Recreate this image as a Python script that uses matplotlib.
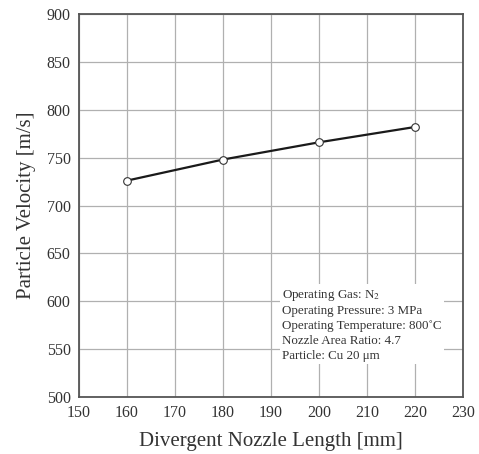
import matplotlib
matplotlib.use('Agg')
import matplotlib.pyplot as plt
from matplotlib.patches import Rectangle

plt.rcParams['font.family'] = ['Liberation Serif', 'DejaVu Serif']
plt.rcParams['mathtext.fontset'] = 'stix'

length = [160, 180, 200, 220]
velocity = [726, 748, 766, 782]
xticks = list(range(150, 231, 10))
yticks = list(range(500, 901, 50))
info_lines = ['Operating Gas: N$_2$',
              'Operating Pressure: 3 MPa',
              'Operating Temperature: 800\u02daC',
              'Nozzle Area Ratio: 4.7',
              'Particle: Cu 20 \u03bcm']

fig = plt.figure(figsize=(4.79, 4.54), dpi=100)
ax = fig.add_axes([79/479, 57/454, 384/479, 383/454])

ax.plot(length, velocity, color='#1a1a1a', lw=1.6, marker='o', ms=5.5,
        mfc='white', mec='#333333', mew=0.8, zorder=3)

ax.set_xlim(150, 230)
ax.set_ylim(500, 900)
ax.set_xticks(xticks)
ax.set_yticks(yticks)
ax.grid(True, color='#b0b0b0', lw=0.9)
ax.tick_params(length=0, labelsize=11.5, colors='#333333', pad=6)
for s in ax.spines.values():
    s.set_color('#555555')
    s.set_linewidth(1.3)
    s.set_zorder(5)

ax.set_xlabel('Divergent Nozzle Length [mm]', fontsize=15, color='#333333', labelpad=8)
ax.set_ylabel('Particle Velocity [m/s]', fontsize=15, color='#333333', labelpad=8)

# white patch behind the condition notes
ax.add_patch(Rectangle((0.523, 0.086), 0.428, 0.209, transform=ax.transAxes,
                       facecolor='white', edgecolor='none', zorder=2.5))
y0 = 0.264
for i, line in enumerate(info_lines):
    ax.text(0.529, y0 - i*0.0393, line, transform=ax.transAxes, fontsize=9.4,
            color='#333333', va='center', ha='left', zorder=4)

fig.savefig('out.png', dpi=100)
